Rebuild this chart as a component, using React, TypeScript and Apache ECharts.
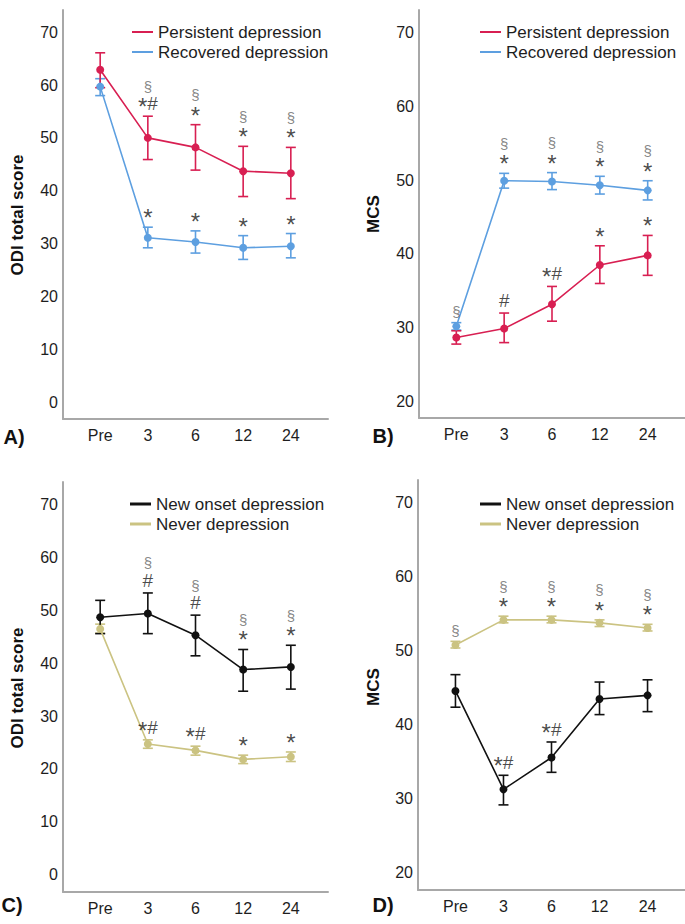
import React, { useEffect, useRef } from "react";
import * as echarts from "echarts";

const timepoints = ["Pre", "3", "6", "12", "24"];

// Panel A: ODI, persistent vs recovered
const odiPersistentMean = [62.9, 50.0, 48.2, 43.7, 43.3];
const odiPersistentLow = [59.5, 45.9, 43.9, 38.9, 38.5];
const odiPersistentHigh = [66.1, 54.1, 52.5, 48.4, 48.2];
const odiRecoveredMean = [59.7, 31.1, 30.3, 29.2, 29.5];
const odiRecoveredLow = [58.0, 29.2, 28.2, 27.0, 27.3];
const odiRecoveredHigh = [61.2, 33.1, 32.4, 31.5, 31.9];

// Panel B: MCS, persistent vs recovered
const mcsPersistentMean = [28.7, 29.9, 33.2, 38.5, 39.8];
const mcsPersistentLow = [27.8, 28.0, 30.9, 36.0, 37.1];
const mcsPersistentHigh = [29.6, 32.0, 35.6, 41.1, 42.5];
const mcsRecoveredMean = [30.2, 49.9, 49.8, 49.3, 48.6];
const mcsRecoveredLow = [29.7, 48.9, 48.7, 48.1, 47.3];
const mcsRecoveredHigh = [30.7, 50.9, 51.0, 50.5, 49.9];

// Panel C: ODI, new onset vs never
const odiNewOnsetMean = [48.7, 49.4, 45.3, 38.8, 39.3];
const odiNewOnsetLow = [45.6, 45.6, 41.4, 34.7, 35.1];
const odiNewOnsetHigh = [51.9, 53.3, 49.1, 42.6, 43.4];
const odiNeverMean = [46.5, 24.7, 23.5, 21.8, 22.3];
const odiNeverLow = [45.7, 23.9, 22.6, 21.0, 21.4];
const odiNeverHigh = [47.4, 25.5, 24.3, 22.6, 23.2];

// Panel D: MCS, new onset vs never
const mcsNewOnsetMean = [44.6, 31.3, 35.6, 43.5, 44.0];
const mcsNewOnsetLow = [42.4, 29.2, 33.6, 41.4, 41.8];
const mcsNewOnsetHigh = [46.8, 33.2, 37.7, 45.8, 46.1];
const mcsNeverMean = [50.8, 54.2, 54.2, 53.8, 53.1];
const mcsNeverLow = [50.4, 53.8, 53.8, 53.3, 52.7];
const mcsNeverHigh = [51.3, 54.7, 54.7, 54.2, 53.6];

// Significance marks: [upper (§), lower (* / #)]
const odiPersistentMarks = [["", ""], ["§", "*#"], ["§", "*"], ["§", "*"], ["§", "*"]];
const odiRecoveredMarks = [["", ""], ["", "*"], ["", "*"], ["", "*"], ["", "*"]];
const mcsPersistentMarks = [["", ""], ["", "#"], ["", "*#"], ["", "*"], ["", "*"]];
const mcsRecoveredMarks = [["§", ""], ["§", "*"], ["§", "*"], ["§", "*"], ["§", "*"]];
const odiNewOnsetMarks = [["", ""], ["§", "#"], ["§", "#"], ["§", "*"], ["§", "*"]];
const odiNeverMarks = [["", ""], ["", "*#"], ["", "*#"], ["", "*"], ["", "*"]];
const mcsNewOnsetMarks = [["", ""], ["", "*#"], ["", "*#"], ["", ""], ["", ""]];
const mcsNeverMarks = [["§", ""], ["§", "*"], ["§", "*"], ["§", "*"], ["§", "*"]];

const odiTicks = [0, 10, 20, 30, 40, 50, 60, 70];
const mcsTicks = [20, 30, 40, 50, 60, 70];

const RED = "#d81f52";
const BLUE = "#5d9fe0";
const BLACK = "#111111";
const KHAKI = "#cbc382";
const FONT = "'Liberation Sans', Arial, sans-serif";

export default function App() {
  const ref = useRef<HTMLDivElement>(null);
  useEffect(() => {
    if (!ref.current) return;
    const chart = echarts.init(ref.current, undefined, { renderer: "svg" });

    const grids = [
      { left: 63, top: 10, width: 265, height: 409 },
      { left: 419, top: 10, width: 266, height: 408 },
      { left: 63, top: 482, width: 265, height: 410 },
      { left: 418, top: 480, width: 267, height: 410 },
    ];
    const yRanges = [
      { min: -3.2, max: 74.2, ticks: odiTicks },
      { min: 17.8, max: 73.0, ticks: mcsTicks },
      { min: -3.3, max: 74.3, ticks: odiTicks },
      { min: 17.7, max: 73.1, ticks: mcsTicks },
    ];

    const axisLine = { show: true, onZero: false, lineStyle: { color: "#a8a8a8", width: 2 } };
    const xAxis = grids.map((_, i) => ({
      type: "value",
      gridIndex: i,
      min: -0.78,
      max: 4.78,
      axisLine,
      axisTick: { show: false },
      splitLine: { show: false },
      axisLabel: {
        customValues: [0, 1, 2, 3, 4],
        formatter: (v: number) => timepoints[Math.round(v)],
        fontSize: 16,
        color: "#1e1e1e",
        fontFamily: FONT,
        margin: 8,
      },
    }));
    const yAxis = yRanges.map((r, i) => ({
      type: "value",
      gridIndex: i,
      min: r.min,
      max: r.max,
      axisLine,
      axisTick: { show: false },
      splitLine: { show: false },
      axisLabel: {
        customValues: r.ticks,
        fontSize: 16,
        color: "#1e1e1e",
        fontFamily: FONT,
        margin: 5,
      },
    }));

    const series: any[] = [];
    const addGroup = (
      gi: number,
      name: string,
      color: string,
      mean: number[],
      low: number[],
      high: number[],
      marks: string[][]
    ) => {
      series.push({
        type: "custom",
        name: name + " CI",
        xAxisIndex: gi,
        yAxisIndex: gi,
        data: mean.map((_, k) => [k, low[k], high[k]]),
        encode: { x: 0, y: [1, 2] },
        z: 2,
        renderItem: (_p: any, api: any) => {
          const x = api.value(0);
          const pLo = api.coord([x, api.value(1)]);
          const pHi = api.coord([x, api.value(2)]);
          const w = 5;
          const st = { stroke: color, lineWidth: 1.6 };
          return {
            type: "group",
            children: [
              { type: "line", shape: { x1: pLo[0], y1: pLo[1], x2: pHi[0], y2: pHi[1] }, style: st },
              { type: "line", shape: { x1: pLo[0] - w, y1: pLo[1], x2: pLo[0] + w, y2: pLo[1] }, style: st },
              { type: "line", shape: { x1: pHi[0] - w, y1: pHi[1], x2: pHi[0] + w, y2: pHi[1] }, style: st },
            ],
          };
        },
      });
      series.push({
        type: "line",
        name,
        xAxisIndex: gi,
        yAxisIndex: gi,
        data: mean.map((v, k) => [k, v]),
        color,
        symbol: "circle",
        symbolSize: 8,
        showSymbol: true,
        lineStyle: { color, width: 1.6 },
        itemStyle: { color },
        z: 3,
      });
      series.push({
        type: "scatter",
        name: name + " marks",
        xAxisIndex: gi,
        yAxisIndex: gi,
        symbolSize: 0,
        silent: true,
        z: 4,
        data: high.map((h, k) => ({ value: [k, h], marks: marks[k] })),
        label: {
          show: true,
          position: "top",
          distance: 3,
          formatter: (p: any) => {
            const m = p.data.marks;
            const parts: string[] = [];
            if (m[0]) parts.push("{s|" + m[0] + "}");
            if (m[1]) {
              parts.push(
                m[1]
                  .split("")
                  .map((c: string) => (c === "*" ? "{st|*}" : "{h|#}"))
                  .join("")
              );
            }
            return parts.join("\n");
          },
          rich: {
            s: { fontSize: 15, color: "#666666", lineHeight: 16, fontFamily: FONT },
            st: { fontSize: 24, color: "#1a1a1a", lineHeight: 19, fontFamily: FONT, padding: [6, 0, 0, 0] },
            h: { fontSize: 19, color: "#1a1a1a", lineHeight: 19, fontFamily: FONT },
          },
        },
      });
    };

    addGroup(0, "Recovered depression", BLUE, odiRecoveredMean, odiRecoveredLow, odiRecoveredHigh, odiRecoveredMarks);
    addGroup(0, "Persistent depression", RED, odiPersistentMean, odiPersistentLow, odiPersistentHigh, odiPersistentMarks);
    addGroup(1, "Recovered depression", BLUE, mcsRecoveredMean, mcsRecoveredLow, mcsRecoveredHigh, mcsRecoveredMarks);
    addGroup(1, "Persistent depression", RED, mcsPersistentMean, mcsPersistentLow, mcsPersistentHigh, mcsPersistentMarks);
    addGroup(2, "Never depression", KHAKI, odiNeverMean, odiNeverLow, odiNeverHigh, odiNeverMarks);
    addGroup(2, "New onset depression", BLACK, odiNewOnsetMean, odiNewOnsetLow, odiNewOnsetHigh, odiNewOnsetMarks);
    addGroup(3, "Never depression", KHAKI, mcsNeverMean, mcsNeverLow, mcsNeverHigh, mcsNeverMarks);
    addGroup(3, "New onset depression", BLACK, mcsNewOnsetMean, mcsNewOnsetLow, mcsNewOnsetHigh, mcsNewOnsetMarks);

    const legendBase = {
      orient: "vertical",
      icon: "rect",
      itemWidth: 21,
      itemHeight: 2,
      itemGap: 0,
      padding: 0,
      selectedMode: false,
      textStyle: { fontSize: 17, color: "#1e1e1e", fontFamily: FONT, lineHeight: 20 },
    };
    const legend = [
      { ...legendBase, left: 132, top: 22, data: ["Persistent depression", "Recovered depression"] },
      { ...legendBase, left: 480, top: 22, data: ["Persistent depression", "Recovered depression"] },
      { ...legendBase, left: 130, top: 494, itemHeight: 3, data: ["New onset depression", "Never depression"] },
      { ...legendBase, left: 480, top: 494, itemHeight: 3, data: ["New onset depression", "Never depression"] },
    ];

    const yTitle = (x: number, y: number, text: string) => ({
      type: "text",
      x,
      y,
      rotation: Math.PI / 2,
      style: { text, font: `bold 17px ${FONT}`, fill: "#111", align: "center", verticalAlign: "middle" },
    });
    const panelLabel = (x: number, y: number, text: string) => ({
      type: "text",
      x,
      y,
      style: { text, font: `bold 20px ${FONT}`, fill: "#111", align: "center", verticalAlign: "middle" },
    });

    chart.setOption({
      animation: false,
      backgroundColor: "#ffffff",
      grid: grids,
      xAxis,
      yAxis,
      legend,
      series,
      graphic: [
        yTitle(17, 215, "ODI total score"),
        yTitle(373, 214, "MCS"),
        yTitle(17, 688, "ODI total score"),
        yTitle(373, 687, "MCS"),
        panelLabel(14, 437, "A)"),
        panelLabel(383, 436, "B)"),
        panelLabel(12, 905, "C)"),
        panelLabel(383, 905, "D)"),
      ],
    });
    return () => chart.dispose();
  }, []);
  return (
    <div
      ref={ref}
      style={{ position: "absolute", left: 0, top: 0, width: 685, height: 924, background: "#fff" }}
    />
  );
}
